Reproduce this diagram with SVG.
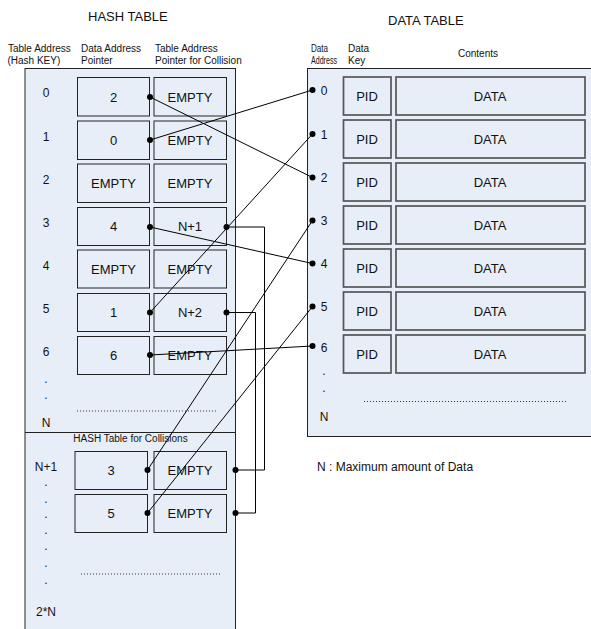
<svg xmlns="http://www.w3.org/2000/svg" width="591" height="629" viewBox="0 0 591 629">
<style>
text{font-family:"Liberation Sans",Arial,sans-serif;fill:#111}
.t13{font-size:13px}
.t12{font-size:12px}
.t10{font-size:10px}
.c{text-anchor:middle}
.box{fill:#E8EEF7;stroke:#222;stroke-width:1}
.hc{fill:#E8EEF7;stroke:#222;stroke-width:1}
.dc{fill:#E8EEF7;stroke:#555;stroke-width:1.7}
.ln{fill:none;stroke:#000;stroke-width:1}
.dot{fill:#000}
.dash{stroke:#333;stroke-width:1;stroke-dasharray:1 2}
</style>

<g id="titles">
<text class="t13" x="88" y="21">HASH TABLE</text>
<text class="t13" x="388" y="25">DATA TABLE</text>
<text class="t10" x="8" y="51.5">Table Address</text>
<text class="t10" x="7.5" y="63.5">(Hash KEY)</text>
<text class="t10" x="81" y="51.5">Data Address</text>
<text class="t10" x="81" y="63.5">Pointer</text>
<text class="t10" x="155" y="51.5">Table Address</text>
<text class="t10" x="155" y="63.5">Pointer for Collision</text>
<text class="t10" x="311" y="51.5" textLength="17" lengthAdjust="spacingAndGlyphs">Data</text>
<text class="t10" x="311" y="63.5" textLength="26" lengthAdjust="spacingAndGlyphs">Address</text>
<text class="t10" x="348" y="51.5">Data</text>
<text class="t10" x="348" y="63.5">Key</text>
<text class="t10 c" x="478" y="57">Contents</text>
<text class="t12" x="317" y="471">N : Maximum amount of Data</text>
</g>

<g id="hash-table">
<rect class="box" x="25" y="68.5" width="210.5" height="580"/>
<line x1="25" y1="432.5" x2="235.5" y2="432.5" stroke="#222" stroke-width="1"/>
<text class="t10 c" x="130.5" y="441.5">HASH Table for Collisions</text>
<g class="t12 c">
<text x="46" y="97">0</text>
<text x="46" y="140.5">1</text>
<text x="46" y="183.5">2</text>
<text x="46" y="226.5">3</text>
<text x="46" y="269.5">4</text>
<text x="46" y="313">5</text>
<text x="46" y="356">6</text>
<text x="46" y="383">.</text>
<text x="46" y="399">.</text>
<text x="46" y="427">N</text>
<text x="46" y="471">N+1</text>
<text x="46" y="486">.</text>
<text x="46" y="503">.</text>
<text x="46" y="518">.</text>
<text x="46" y="534">.</text>
<text x="46" y="550">.</text>
<text x="46" y="567">.</text>
<text x="46" y="584">.</text>
<text x="46" y="616">2*N</text>
</g>
<line class="dash" x1="77" y1="411" x2="217" y2="411"/>
<line class="dash" x1="81" y1="574" x2="222" y2="574"/>
</g>

<g id="hash-row-0"><rect class="hc" x="77.5" y="77.5" width="72" height="38.5"/><rect class="hc" x="154" y="77.5" width="72.5" height="38.5"/><text class="t13 c" x="113.5" y="101.5">2</text><text class="t13 c" x="190" y="101.5">EMPTY</text></g>
<g id="hash-row-1"><rect class="hc" x="77.5" y="121" width="72" height="38.5"/><rect class="hc" x="154" y="121" width="72.5" height="38.5"/><text class="t13 c" x="113.5" y="145">0</text><text class="t13 c" x="190" y="145">EMPTY</text></g>
<g id="hash-row-2"><rect class="hc" x="77.5" y="164" width="72" height="38.5"/><rect class="hc" x="154" y="164" width="72.5" height="38.5"/><text class="t13 c" x="113.5" y="188">EMPTY</text><text class="t13 c" x="190" y="188">EMPTY</text></g>
<g id="hash-row-3"><rect class="hc" x="77.5" y="207.5" width="72" height="38"/><rect class="hc" x="154" y="207.5" width="72.5" height="38"/><text class="t13 c" x="113.5" y="231">4</text><text class="t13 c" x="190" y="231">N+1</text></g>
<g id="hash-row-4"><rect class="hc" x="77.5" y="250" width="72" height="38"/><rect class="hc" x="154" y="250" width="72.5" height="38"/><text class="t13 c" x="113.5" y="274">EMPTY</text><text class="t13 c" x="190" y="274">EMPTY</text></g>
<g id="hash-row-5"><rect class="hc" x="77.5" y="293.5" width="72" height="38"/><rect class="hc" x="154" y="293.5" width="72.5" height="38"/><text class="t13 c" x="113.5" y="317">1</text><text class="t13 c" x="190" y="317">N+2</text></g>
<g id="hash-row-6"><rect class="hc" x="77.5" y="336.5" width="72" height="38"/><rect class="hc" x="154" y="336.5" width="72.5" height="38"/><text class="t13 c" x="113.5" y="360">6</text><text class="t13 c" x="190" y="360">EMPTY</text></g>
<g id="hash-row-n1"><rect class="hc" x="75" y="451.5" width="72.5" height="38"/><rect class="hc" x="154" y="451.5" width="72.5" height="38"/><text class="t13 c" x="111" y="475">3</text><text class="t13 c" x="190" y="475">EMPTY</text></g>
<g id="hash-row-n2"><rect class="hc" x="75" y="494.5" width="72.5" height="38"/><rect class="hc" x="154" y="494.5" width="72.5" height="38"/><text class="t13 c" x="111" y="518">5</text><text class="t13 c" x="190" y="518">EMPTY</text></g>

<g id="data-table">
<rect class="box" x="307.5" y="68.5" width="300" height="368"/>
<g class="t12 c">
<text x="324" y="95">0</text>
<text x="324" y="139">1</text>
<text x="324" y="182">2</text>
<text x="324" y="225">3</text>
<text x="324" y="268">4</text>
<text x="324" y="311">5</text>
<text x="324" y="351.5">6</text>
<text x="324" y="374.5">.</text>
<text x="324" y="391.5">.</text>
<text x="324" y="421">N</text>
</g>
<line class="dash" x1="364" y1="401.5" x2="566" y2="401.5"/>
</g>

<g id="data-row-0"><rect class="dc" x="343.5" y="77" width="47.5" height="38"/><rect class="dc" x="396" y="77" width="189" height="38"/><text class="t13 c" x="367" y="100.5">PID</text><text class="t13 c" x="490" y="100.5">DATA</text></g>
<g id="data-row-1"><rect class="dc" x="343.5" y="120" width="47.5" height="38"/><rect class="dc" x="396" y="120" width="189" height="38"/><text class="t13 c" x="367" y="143.5">PID</text><text class="t13 c" x="490" y="143.5">DATA</text></g>
<g id="data-row-2"><rect class="dc" x="343.5" y="163" width="47.5" height="38"/><rect class="dc" x="396" y="163" width="189" height="38"/><text class="t13 c" x="367" y="186.5">PID</text><text class="t13 c" x="490" y="186.5">DATA</text></g>
<g id="data-row-3"><rect class="dc" x="343.5" y="206" width="47.5" height="38"/><rect class="dc" x="396" y="206" width="189" height="38"/><text class="t13 c" x="367" y="229.5">PID</text><text class="t13 c" x="490" y="229.5">DATA</text></g>
<g id="data-row-4"><rect class="dc" x="343.5" y="249" width="47.5" height="38"/><rect class="dc" x="396" y="249" width="189" height="38"/><text class="t13 c" x="367" y="272.5">PID</text><text class="t13 c" x="490" y="272.5">DATA</text></g>
<g id="data-row-5"><rect class="dc" x="343.5" y="292" width="47.5" height="38"/><rect class="dc" x="396" y="292" width="189" height="38"/><text class="t13 c" x="367" y="315.5">PID</text><text class="t13 c" x="490" y="315.5">DATA</text></g>
<g id="data-row-6"><rect class="dc" x="343.5" y="335" width="47.5" height="38"/><rect class="dc" x="396" y="335" width="189" height="38"/><text class="t13 c" x="367" y="358.5">PID</text><text class="t13 c" x="490" y="358.5">DATA</text></g>

<g id="connectors">
<line class="ln" x1="150" y1="97" x2="312.5" y2="177.5"/>
<line class="ln" x1="150" y1="140" x2="312.5" y2="90"/>
<line class="ln" x1="150" y1="227" x2="312.5" y2="263.5"/>
<line class="ln" x1="150" y1="312.5" x2="312.5" y2="134"/>
<line class="ln" x1="150" y1="355" x2="312.5" y2="346"/>
<line class="ln" x1="147.5" y1="470" x2="312.5" y2="220.5"/>
<line class="ln" x1="147.5" y1="513" x2="312.5" y2="306.5"/>
<polyline class="ln" points="226.5,227 264.5,227 264.5,470 235.5,470"/>
<polyline class="ln" points="226.5,312.5 255.5,312.5 255.5,513 235.5,513"/>
<circle class="dot" cx="150" cy="97" r="3"/>
<circle class="dot" cx="150" cy="140" r="3"/>
<circle class="dot" cx="150" cy="227" r="3"/>
<circle class="dot" cx="150" cy="312.5" r="3"/>
<circle class="dot" cx="150" cy="355" r="3"/>
<circle class="dot" cx="147.5" cy="470" r="3"/>
<circle class="dot" cx="147.5" cy="513" r="3"/>
<circle class="dot" cx="226.5" cy="227" r="3"/>
<circle class="dot" cx="226.5" cy="312.5" r="3"/>
<circle class="dot" cx="235.5" cy="470" r="3"/>
<circle class="dot" cx="235.5" cy="513" r="3"/>
<circle class="dot" cx="312.5" cy="90" r="3"/>
<circle class="dot" cx="312.5" cy="134" r="3"/>
<circle class="dot" cx="312.5" cy="177.5" r="3"/>
<circle class="dot" cx="312.5" cy="220.5" r="3"/>
<circle class="dot" cx="312.5" cy="263.5" r="3"/>
<circle class="dot" cx="312.5" cy="306.5" r="3"/>
<circle class="dot" cx="312.5" cy="346" r="3"/>
</g>
</svg>
